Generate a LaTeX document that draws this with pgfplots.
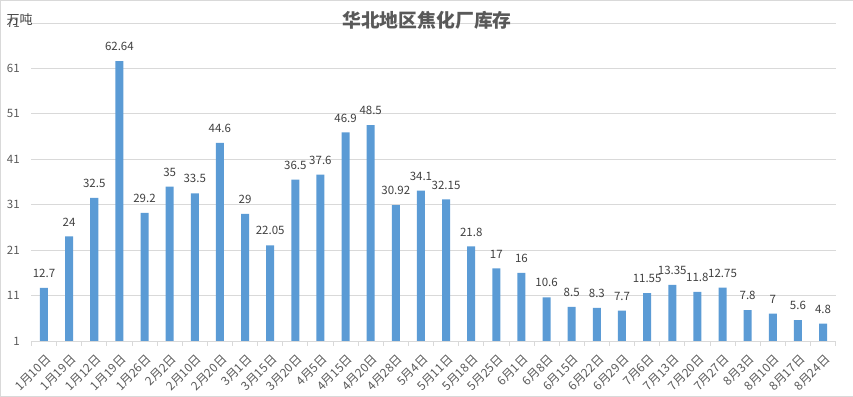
\documentclass[border=0pt]{standalone}
\usepackage{pgfplots}
\pgfplotsset{compat=1.18}
\usepackage{pgfplotstable}
\usepackage{fontspec}
\setmainfont{Noto Sans CJK SC}
\definecolor{barblue}{HTML}{5B9BD5}
\definecolor{gridgray}{HTML}{D9D9D9}
\definecolor{textgray}{HTML}{595959}
\definecolor{labgray}{HTML}{404040}
\pgfplotstableread{
x y lab
0 12.7 12.7
1 24 24
2 32.5 32.5
3 62.64 62.64
4 29.2 29.2
5 35 35
6 33.5 33.5
7 44.6 44.6
8 29 29
9 22.05 22.05
10 36.5 36.5
11 37.6 37.6
12 46.9 46.9
13 48.5 48.5
14 30.92 30.92
15 34.1 34.1
16 32.15 32.15
17 21.8 21.8
18 17 17
19 16 16
20 10.6 10.6
21 8.5 8.5
22 8.3 8.3
23 7.7 7.7
24 11.55 11.55
25 13.35 13.35
26 11.8 11.8
27 12.75 12.75
28 7.8 7.8
29 7 7
30 5.6 5.6
31 4.8 4.8
}\datatable
\begin{document}
\begin{tikzpicture}[x=1bp,y=1bp]
\draw[gridgray] (0.5,0.5) rectangle (852.5,396.5);
\begin{axis}[
  at={(31.7bp,56bp)}, anchor=south west,
  width=803.6bp, height=317.7bp, scale only axis,
  xmin=-0.5, xmax=31.5, ymin=1, ymax=71.01,
  ytick={1,11,21,31,41,51,61,71},
  ymajorgrids, grid style={gridgray, line width=0.8bp},
  axis x line*=bottom, axis y line*=left,
  y axis line style={draw=none},
  x axis line style={gridgray, line width=0.8bp, -},
  major y tick style={draw=none},
  xtick={0,...,31},
  major x tick style={draw=none},
  minor xtick={-0.5,0.5,...,31.5},
  minor x tick style={gridgray, line width=0.8bp},
  minor tick length=5bp,
  tick align=outside,
  xticklabels={1月10日,1月19日,1月12日,1月19日,1月26日,2月2日,2月10日,2月20日,3月1日,3月15日,3月20日,4月5日,4月15日,4月20日,4月28日,5月4日,5月11日,5月18日,5月25日,6月1日,6月8日,6月15日,6月22日,6月29日,7月6日,7月13日,7月20日,7月27日,8月3日,8月10日,8月17日,8月24日},
  xticklabel style={rotate=45, anchor=north east, inner sep=0pt, xshift=-5bp, yshift=-6.4bp, font=\fontsize{12bp}{14bp}\selectfont, text=textgray},
  yticklabel style={font=\fontsize{11.5bp}{13bp}\selectfont, text=textgray, xshift=-4bp},
  /pgf/number format/assume math mode=true,
  clip=false,
]
\addplot[ybar, bar width=8bp, fill=barblue, draw=none,
  nodes near coords, point meta=explicit symbolic,
  every node near coord/.append style={font=\fontsize{11.5bp}{13bp}\selectfont, text=labgray, anchor=south, inner sep=0pt, yshift=10bp}]
  table[x=x, y=y, meta=lab] {\datatable};
\end{axis}
\node[font=\bfseries\fontsize{18.8bp}{22bp}\selectfont, text=textgray] at (427,376) {华北地区焦化厂库存};
\node[font=\fontsize{13bp}{15bp}\selectfont, text=labgray] at (20,377) {万吨};
\end{tikzpicture}
\end{document}
